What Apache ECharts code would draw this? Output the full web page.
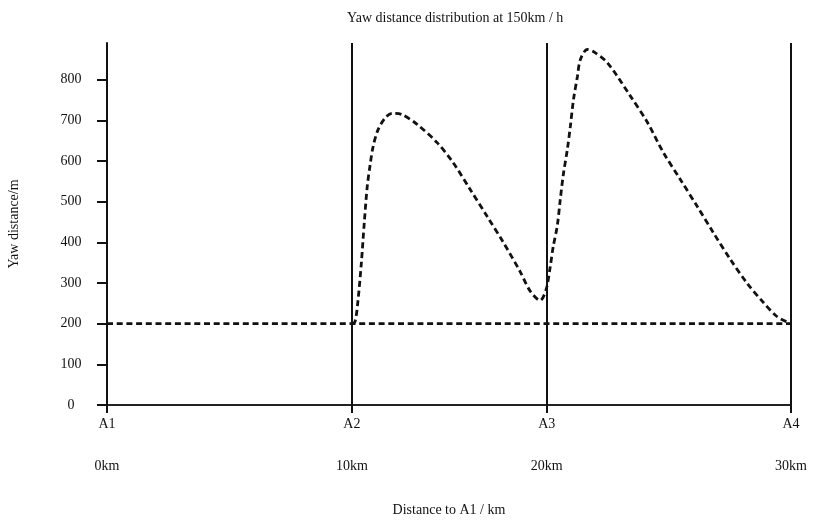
<!DOCTYPE html>
<html>
<head>
<meta charset="utf-8">
<script src="https://cdn.jsdelivr.net/npm/echarts@6/dist/echarts.min.js"></script>
<style>html,body{margin:0;padding:0;background:#fff}#c{width:820px;height:520px}</style>
</head>
<body>
<div id="c"></div>
<script>
// Station positions along the drawn axis (axis units) and their labels
var stationPos = [0, 10.74, 19.29, 30];
var stationNames = ['A1', 'A2', 'A3', 'A4'];
var stationKm = ['0km', '10km', '20km', '30km'];
var yTicks = [0, 100, 200, 300, 400, 500, 600, 700, 800];

// Baseline yaw distance
var baseX = [0, 30];
var baseY = [200, 200];

// Yaw distance curve
var curveX = [10.74, 10.88, 11.01, 11.15, 11.28, 11.41, 11.54, 11.67, 11.89, 12.20, 12.51, 12.94, 13.60, 14.48, 15.18, 15.93, 16.67, 17.38, 18.12, 18.56, 19.00, 19.26, 19.44, 19.57, 19.75, 19.88, 20.01, 20.19, 20.32, 20.46, 20.63, 20.76, 21.06, 21.33, 21.94, 22.95, 23.70, 24.40, 25.14, 25.89, 26.59, 27.34, 28.08, 28.79, 29.40, 30.00];
var curveY = [200, 205, 258, 345, 445, 535, 590, 635, 677, 706, 717, 714, 690, 645, 596, 530, 464, 400, 328, 280, 257, 284, 340, 389, 441, 505, 565, 628, 684, 751, 807, 849, 874, 869, 842, 760, 695, 621, 555, 488, 424, 358, 299, 252, 217, 200];

function zip(a, b) { return a.map(function (v, i) { return [v, b[i]]; }); }

var FONT = 'Liberation Serif';
var chart = echarts.init(document.getElementById('c'), null, { renderer: 'canvas' });
chart.setOption({
  backgroundColor: '#fff',
  animation: false,
  title: {
    text: 'Yaw distance distribution at 150km / h',
    left: 342, top: 6,
    textStyle: { fontFamily: FONT, fontSize: 14, fontWeight: 'normal', color: '#111' }
  },
  grid: { left: 107, right: 29, top: 43, bottom: 115, containLabel: false, outerBoundsMode: 'none' },
  xAxis: {
    type: 'value', min: 0, max: 30,
    name: 'Distance to A1 / km', nameLocation: 'middle', nameGap: 98,
    nameTextStyle: { fontFamily: FONT, fontSize: 14, color: '#111' },
    axisLine: { show: true, lineStyle: { color: '#222', width: 2 } },
    axisTick: { show: true, customValues: stationPos, length: 8, lineStyle: { color: '#111', width: 2 } },
    axisLabel: {
      customValues: stationPos, margin: 9, lineHeight: 21,
      fontFamily: FONT, fontSize: 14, color: '#111',
      formatter: function (v) {
        var best = 0;
        for (var i = 1; i < stationPos.length; i++) if (Math.abs(stationPos[i] - v) < Math.abs(stationPos[best] - v)) best = i;
        return stationNames[best] + '\n\n' + stationKm[best];
      }
    },
    splitLine: { show: false }
  },
  yAxis: {
    type: 'value', min: 0, max: 890,
    name: 'Yaw distance/m', nameLocation: 'middle', nameGap: 86,
    nameTextStyle: { fontFamily: FONT, fontSize: 14, color: '#111' },
    axisLine: { show: true, lineStyle: { color: '#111', width: 2 } },
    axisTick: { show: true, customValues: yTicks, length: 10, lineStyle: { color: '#111', width: 2 } },
    axisLabel: { customValues: yTicks, margin: 36, align: 'center', fontFamily: FONT, fontSize: 14, color: '#111' },
    splitLine: { show: false }
  },
  series: [
    {
      type: 'line', data: zip(baseX, baseY), symbol: 'none',
      lineStyle: { color: '#111', width: 2.8, type: [6, 3.7] },
      markLine: {
        silent: true, symbol: 'none',
        label: { show: false },
        lineStyle: { color: '#111', width: 2, type: 'solid' },
        data: stationPos.map(function (p) { return { xAxis: p }; })
      },
      z: 3
    },
    {
      type: 'line', data: zip(curveX, curveY), symbol: 'none',
      smooth: 0.3,
      lineStyle: { color: '#111', width: 2.8, type: [6, 3.7] },
      z: 3
    }
  ]
});
</script>
</body>
</html>
